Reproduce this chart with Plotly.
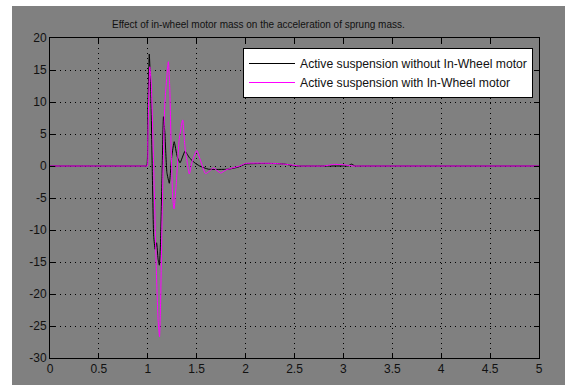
import plotly.graph_objects as go

# ---- data ----
t_without = [0.0, 0.5, 0.97, 0.99, 1.0, 1.015, 1.03, 1.045, 1.06, 1.075, 1.09, 1.105, 1.118, 1.13, 1.145,
             1.16, 1.175, 1.195, 1.22, 1.245, 1.27, 1.30, 1.33, 1.38, 1.43, 1.48, 1.53, 1.62,
             1.82, 1.92, 2.0, 2.25, 2.4, 2.5, 2.6, 3.0, 3.05, 3.08, 3.12, 3.2, 3.5, 5.0]
a_without = [0.0, 0.0, 0.0, 0.0, 8.0, 17.5, 12.0, 0.0, -11.0, -13.0, -12.0, -14.5, -15.5, -12.0, -2.0,
             7.7, 5.0, -1.0, -2.7, 1.5, 3.8, 1.5, 0.5, 2.3, 1.2, 0.5, 0.0, -0.5,
             -0.5, -0.2, 0.3, 0.4, 0.3, 0.0, 0.0, 0.0, 0.0, 0.3, 0.0, 0.0, 0.0, 0.0]

t_with = [0.0, 0.5, 0.97, 0.995, 1.0, 1.02, 1.035, 1.06, 1.085, 1.105, 1.12, 1.13, 1.15, 1.175, 1.21,
          1.225, 1.24, 1.255, 1.268, 1.29, 1.32, 1.357, 1.38, 1.425, 1.45, 1.50, 1.54, 1.59,
          1.63, 1.67, 1.745, 1.8, 1.94, 2.0, 2.3, 2.45, 2.55, 2.7, 2.8, 2.9, 3.0, 3.1, 3.2, 3.5, 5.0]
a_with = [0.0, 0.0, 0.0, 0.0, 4.0, 15.5, 13.0, 0.0, -15.0, -24.0, -26.7, -22.0, -5.0, 10.0, 16.3,
          12.0, 2.0, -5.0, -6.7, -3.0, 4.0, 7.2, 3.0, -1.25, 0.5, 2.4, 0.8, -1.2,
          -0.8, -0.3, -1.1, -0.6, 0.0, 0.4, 0.4, 0.2, 0.0, 0.0, 0.0, 0.25, 0.2, 0.0, 0.0, 0.0, 0.0]

x_ticks = [0, 0.5, 1, 1.5, 2, 2.5, 3, 3.5, 4, 4.5, 5]
x_ticklabels = ["0", "0.5", "1", "1.5", "2", "2.5", "3", "3.5", "4", "4.5", "5"]
y_ticks = [-30, -25, -20, -15, -10, -5, 0, 5, 10, 15, 20]
y_ticklabels = ["-30", "-25", "-20", "-15", "-10", "-5", "0", "5", "10", "15", "20"]

title_text = "Effect of in-wheel motor mass on the acceleration of sprung mass."
name_without = "Active suspension without In-Wheel motor"
name_with = "Active suspension with In-Wheel motor"

FONT = "Liberation Sans, Arial, sans-serif"

W, H = 565, 385
L, R, T, B = 50, 26, 38, 27
pw, ph = W - L - R, H - T - B

fig = go.Figure()
fig.add_trace(go.Scatter(x=t_without, y=a_without, mode="lines", name=name_without,
                         line=dict(color="#000000", width=1, shape="spline", smoothing=0.4)))
fig.add_trace(go.Scatter(x=t_with, y=a_with, mode="lines", name=name_with,
                         line=dict(color="#ff00ff", width=1, shape="spline", smoothing=0.5)))

axis_common = dict(
    showline=True, linecolor="#000000", linewidth=1, mirror="ticks",
    ticks="inside", ticklen=5, tickcolor="#000000", tickwidth=1,
    showgrid=True, gridcolor="#000000", gridwidth=1, griddash="1px,4px",
    zeroline=False, tickfont=dict(family=FONT, size=12, color="#111111"),
)

fig.update_xaxes(range=[0, 5], tickvals=x_ticks, ticktext=x_ticklabels, **axis_common)
fig.update_yaxes(range=[-30, 20], tickvals=y_ticks, ticktext=y_ticklabels, **axis_common)

def px_x(p):
    return (p - L) / pw

def px_y(p):
    return (H - B - p) / ph

fig.add_shape(type="rect", xref="paper", yref="paper",
              x0=px_x(12), x1=px_x(580), y0=px_y(400), y1=px_y(6),
              fillcolor="#808080", line=dict(width=0), layer="below")

fig.add_annotation(text=title_text, xref="paper", yref="paper",
                   x=px_x(258), y=px_y(24), xanchor="center", yanchor="middle",
                   showarrow=False, font=dict(family=FONT, size=10, color="#111111"))

fig.update_layout(
    width=W, height=H,
    margin=dict(l=L, r=R, t=T, b=B, pad=0, autoexpand=False),
    paper_bgcolor="#ffffff", plot_bgcolor="#ffffff",
    showlegend=True,
    legend=dict(x=px_x(243), y=px_y(48), xanchor="left", yanchor="top",
                bgcolor="#ffffff", bordercolor="#000000", borderwidth=1,
                font=dict(family=FONT, size=12.2, color="#111111"),
                tracegroupgap=0, itemwidth=46),
)

fig.write_html("out.html")
